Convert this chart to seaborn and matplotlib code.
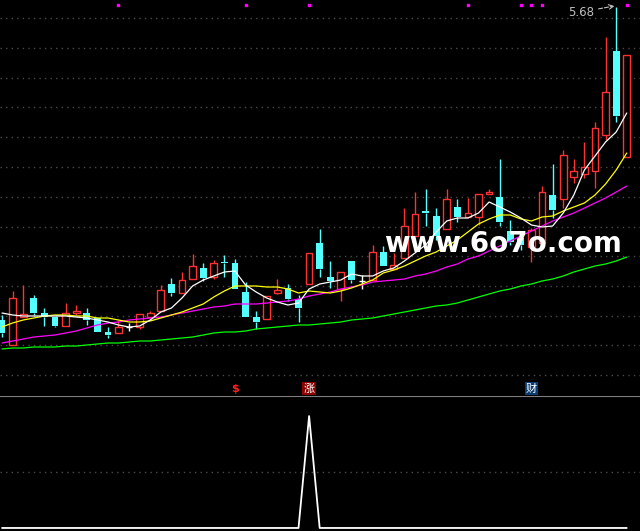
import numpy as np
import seaborn as sns
import matplotlib.pyplot as plt

# daily candles (price units)
opens  = [2.55, 2.30, 2.58, 2.77, 2.62, 2.58, 2.49, 2.62, 2.62, 2.57,
          2.43, 2.42, 2.48, 2.48, 2.58, 2.64, 2.91, 2.82, 2.96, 3.07,
          2.98, 3.13, 3.12, 2.83, 2.58, 2.56, 2.82, 2.87, 2.76, 2.91,
          3.32, 2.98, 2.86, 3.14, 2.94, 2.95, 3.23, 3.06, 3.17, 3.39,
          3.64, 3.59, 3.46, 3.68, 3.58, 3.58, 3.81, 3.78, 3.44, 3.37,
          3.28, 3.32, 3.80, 3.76, 3.98, 4.01, 4.04, 4.40, 5.24, 4.18]
highs  = [2.60, 2.84, 2.90, 2.80, 2.67, 2.58, 2.72, 2.70, 2.67, 2.57,
          2.48, 2.55, 2.52, 2.61, 2.64, 2.90, 2.97, 3.03, 3.21, 3.12,
          3.15, 3.20, 3.16, 2.93, 2.64, 2.79, 2.96, 2.91, 2.80, 3.22,
          3.46, 3.14, 3.03, 3.14, 3.00, 3.30, 3.29, 3.22, 3.67, 3.83,
          3.86, 3.67, 3.86, 3.76, 3.77, 3.81, 3.86, 4.16, 3.55, 3.37,
          3.47, 3.89, 4.11, 4.25, 4.16, 4.33, 4.53, 5.38, 5.68, 5.20]
lows   = [2.38, 2.30, 2.58, 2.60, 2.49, 2.48, 2.49, 2.60, 2.50, 2.43,
          2.37, 2.42, 2.44, 2.46, 2.58, 2.64, 2.79, 2.82, 2.96, 2.94,
          2.96, 2.98, 2.86, 2.58, 2.46, 2.56, 2.81, 2.74, 2.53, 2.91,
          2.98, 2.87, 2.74, 2.92, 2.86, 2.95, 3.09, 3.06, 3.17, 3.39,
          3.49, 3.35, 3.46, 3.53, 3.58, 3.50, 3.81, 3.49, 3.30, 3.25,
          3.13, 3.32, 3.57, 3.67, 3.92, 3.97, 3.87, 4.35, 4.53, 4.18]
closes = [2.42, 2.77, 2.61, 2.62, 2.58, 2.49, 2.62, 2.64, 2.55, 2.43,
          2.40, 2.48, 2.48, 2.61, 2.62, 2.85, 2.82, 2.95, 3.09, 2.97,
          3.12, 3.12, 2.86, 2.58, 2.53, 2.79, 2.85, 2.76, 2.67, 3.22,
          3.06, 2.94, 3.03, 2.95, 2.94, 3.23, 3.09, 3.10, 3.49, 3.61,
          3.62, 3.39, 3.76, 3.58, 3.62, 3.81, 3.83, 3.53, 3.33, 3.30,
          3.45, 3.83, 3.65, 4.20, 4.04, 4.08, 4.47, 4.83, 4.59, 5.20]

# moving averages
ma5  = [2.62, 2.60, 2.59, 2.59, 2.59, 2.59, 2.59, 2.58, 2.57, 2.55,
        2.53, 2.50, 2.48, 2.49, 2.55, 2.63, 2.67, 2.77, 2.89, 2.95,
        2.99, 3.03, 3.04, 2.90, 2.83, 2.77, 2.73, 2.70, 2.72, 2.86,
        2.91, 2.93, 2.95, 3.01, 2.99, 2.99, 3.04, 3.07, 3.14, 3.22,
        3.30, 3.43, 3.54, 3.57, 3.57, 3.62, 3.73, 3.68, 3.63, 3.57,
        3.50, 3.48, 3.49, 3.62, 3.80, 4.05, 4.19, 4.33, 4.43, 4.62]
ma10 = [2.48, 2.52, 2.55, 2.57, 2.59, 2.60, 2.60, 2.59, 2.59, 2.57,
        2.57, 2.55, 2.53, 2.53, 2.54, 2.57, 2.60, 2.63, 2.67, 2.71,
        2.78, 2.84, 2.89, 2.89, 2.89, 2.88, 2.88, 2.86, 2.82, 2.84,
        2.83, 2.82, 2.84, 2.87, 2.91, 2.95, 3.02, 3.05, 3.09, 3.14,
        3.19, 3.23, 3.29, 3.35, 3.43, 3.51, 3.56, 3.60, 3.60, 3.56,
        3.54, 3.58, 3.59, 3.64, 3.68, 3.72, 3.80, 3.91, 4.05, 4.22]
ma20 = [2.32, 2.34, 2.36, 2.38, 2.39, 2.40, 2.42, 2.44, 2.47, 2.50,
        2.52, 2.53, 2.55, 2.56, 2.57, 2.58, 2.60, 2.62, 2.64, 2.66,
        2.68, 2.69, 2.71, 2.71, 2.71, 2.72, 2.73, 2.74, 2.76, 2.79,
        2.81, 2.83, 2.86, 2.88, 2.90, 2.93, 2.94, 2.95, 2.96, 2.99,
        3.01, 3.04, 3.08, 3.11, 3.16, 3.19, 3.24, 3.29, 3.34, 3.39,
        3.44, 3.49, 3.54, 3.58, 3.62, 3.67, 3.72, 3.77, 3.83, 3.89]
ma60 = [2.26, 2.27, 2.27, 2.28, 2.28, 2.28, 2.29, 2.29, 2.30, 2.31,
        2.32, 2.32, 2.33, 2.34, 2.34, 2.35, 2.36, 2.37, 2.38, 2.40,
        2.42, 2.43, 2.43, 2.44, 2.46, 2.47, 2.48, 2.49, 2.50, 2.50,
        2.51, 2.52, 2.53, 2.55, 2.56, 2.57, 2.59, 2.61, 2.63, 2.65,
        2.67, 2.69, 2.70, 2.72, 2.75, 2.78, 2.81, 2.84, 2.86, 2.89,
        2.91, 2.94, 2.96, 2.99, 3.03, 3.06, 3.09, 3.11, 3.14, 3.18]

# lower indicator
signal = [0, 0, 0, 0, 0, 0, 0, 0, 0, 0,
          0, 0, 0, 0, 0, 0, 0, 0, 0, 0,
          0, 0, 0, 0, 0, 0, 0, 0, 0, 1,
          0, 0, 0, 0, 0, 0, 0, 0, 0, 0,
          0, 0, 0, 0, 0, 0, 0, 0, 0, 0,
          0, 0, 0, 0, 0, 0, 0, 0, 0, 0]

top_dot_idx = [11, 23, 29, 44, 49, 50, 51, 59]
icon_idx = [22, 29, 50]
icon_labels = ['$', '涨', '财']
high_label = '5.68'

sns.set_theme(style="dark")
plt.rcParams['font.family'] = ['DejaVu Sans', 'Noto Sans CJK SC']

RED = '#ff3232'
CYAN = '#54ffff'
GRID = '#4a4a4a'

fig = plt.figure(figsize=(6.4, 5.31), dpi=100, facecolor='black')
ax1 = fig.add_axes([0, 135 / 531, 1, 396 / 531])
ax2 = fig.add_axes([0, 0, 1, 135 / 531])

idx = np.arange(len(opens))
o = np.array(opens)
h = np.array(highs)
l = np.array(lows)
c = np.array(closes)
w = 0.64

for ax in (ax1, ax2):
    ax.set_facecolor('black')
    ax.set_xlim(-0.19, 60.25)
    ax.set_xticks([])
    for s in ax.spines.values():
        s.set_visible(False)

# grid lines of the price panel
ax1.set_ylim(1.79, 5.75)
ax1.set_yticks([])
for gy in [5.57, 5.27, 4.97, 4.68, 4.38, 4.08, 3.78, 3.48, 3.19, 2.89, 2.59, 2.30, 2.00]:
    ax1.axhline(gy, color=GRID, lw=1, ls=(0, (1, 3)), zorder=0)

# candles
for i in idx:
    top, bot = max(o[i], c[i]), min(o[i], c[i])
    if c[i] > o[i]:
        col = RED
    elif c[i] < o[i]:
        col = CYAN
    else:
        col = 'white'
    ax1.vlines(i, top, h[i], color=col, lw=1, zorder=2)
    ax1.vlines(i, l[i], bot, color=col, lw=1, zorder=2)
    if col == RED:
        ax1.bar(i, top - bot, w, bottom=bot, facecolor='black', edgecolor=RED, lw=1, zorder=3)
    elif col == CYAN:
        ax1.bar(i, max(top - bot, 0.008), w, bottom=bot, color=CYAN, lw=0, zorder=3)
    else:
        ax1.hlines(o[i], i - w / 2, i + w / 2, color='white', lw=1, zorder=3)

# moving averages
for vals, col in [(ma60, '#00ff00'), (ma20, '#ff00ff'), (ma10, '#ffff00'), (ma5, 'white')]:
    sns.lineplot(x=idx, y=vals, ax=ax1, color=col, lw=0.9, estimator=None, zorder=4)

ax1.scatter(top_dot_idx, [5.70] * len(top_dot_idx), marker='s', s=3, color='#ff00ff', zorder=5)

# highest price label
ax1.annotate(high_label, xy=(57.85, 5.69), xytext=(55.9, 5.63), ha='right', va='center',
             color='#c0c0c0', fontsize=8.5,
             arrowprops=dict(arrowstyle='->', ls='--', color='#c0c0c0', lw=0.8,
                             shrinkA=1, shrinkB=0), zorder=6)

# watermark
ax1.text(47.3, 3.31, 'www.6o7o.com', color='white', fontsize=20, fontweight='bold',
         ha='center', va='center', zorder=7)

# signal icons
icon_style = {
    '$': dict(color='#ff2020', fontweight='bold'),
    '涨': dict(color='white', bbox=dict(boxstyle='square,pad=0.12', fc='#8b0000', ec='none')),
    '财': dict(color='white', bbox=dict(boxstyle='square,pad=0.12', fc='#0b3d72', ec='none')),
}
for i, lab in zip(icon_idx, icon_labels):
    ax1.text(i, 1.865, lab, ha='center', va='center', fontsize=8, zorder=6, **icon_style[lab])

# lower panel
ax2.set_ylim(-0.027, 1.179)
ax2.set_yticks([])
ax2.axhline(0.5, color=GRID, lw=1, ls=(0, (1, 3)), zorder=0)
ax2.axhline(1.179, color='#808080', lw=1.5, zorder=1)
sns.lineplot(x=idx, y=signal, ax=ax2, color='white', lw=1.3, estimator=None)
ax2.set_xlabel('')
ax2.set_ylabel('')
ax1.set_xlabel('')
ax1.set_ylabel('')

fig.savefig('out.png', dpi=100, facecolor='black')
